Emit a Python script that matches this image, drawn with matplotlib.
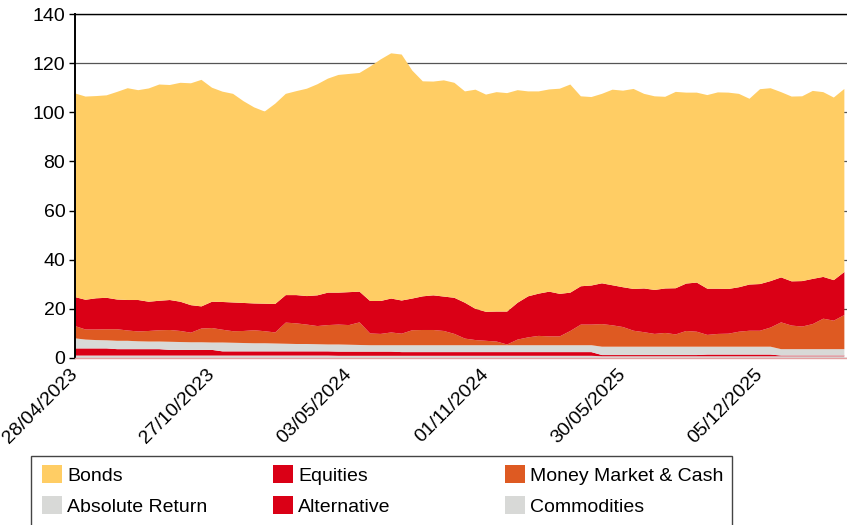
import matplotlib
matplotlib.use("Agg")
import matplotlib.pyplot as plt
from matplotlib.patches import Patch, Rectangle
import numpy as np

plt.rcParams["font.family"] = ["Liberation Sans", "DejaVu Sans"]

bonds = [82.9, 82.7, 82.3, 82.4, 84.5, 86.2, 85.4, 86.8, 88.0, 87.5,
         89.1, 90.3, 92.2, 87.1, 85.6, 84.9, 82.1, 79.8, 78.2, 81.5,
         81.9, 83.0, 84.4, 85.9, 87.1, 88.6, 88.8, 89.0, 95.4, 98.3,
         99.8, 100.1, 92.8, 87.5, 87.0, 88.0, 87.5, 86.0, 89.2, 88.4,
         89.3, 88.9, 86.5, 83.4, 82.3, 82.3, 83.5, 84.7, 77.3, 76.7,
         77.1, 79.6, 80.0, 81.4, 79.2, 78.8, 78.0, 79.9, 77.7, 77.3,
         78.8, 79.9, 79.9, 78.7, 75.6, 79.3, 78.5, 75.4, 75.2, 75.2,
         76.5, 75.2, 74.3, 74.5]
equities = [11.8, 12.1, 12.7, 12.8, 12.1, 12.4, 12.8, 11.9, 12.0, 12.2,
            11.9, 11.2, 9.0, 10.7, 11.3, 11.7, 11.4, 10.9, 11.2, 11.6,
            11.2, 11.5, 11.6, 12.5, 13.2, 13.0, 13.4, 12.5, 13.2, 13.4,
            13.8, 13.5, 12.9, 13.7, 14.1, 14.0, 14.7, 14.6, 12.7, 11.8,
            12.2, 13.4, 15.0, 16.7, 17.2, 18.2, 17.3, 15.6, 15.6, 15.9,
            16.6, 16.3, 16.2, 17.0, 17.8, 17.9, 18.1, 18.8, 19.3, 20.0,
            18.8, 18.4, 18.2, 18.1, 18.8, 19.0, 18.9, 18.3, 18.0, 18.5,
            18.4, 17.0, 16.5, 17.5]
money_market = [5.0, 4.1, 4.3, 4.5, 4.7, 4.2, 4.0, 4.3, 4.6, 4.8,
                4.5, 3.9, 5.6, 5.9, 5.2, 4.7, 4.9, 5.3, 4.9, 4.5,
                8.6, 8.4, 7.9, 7.4, 7.9, 8.1, 8.0, 9.2, 4.8, 4.6,
                5.2, 4.7, 6.1, 6.2, 6.2, 5.8, 4.6, 2.7, 2.1, 1.8,
                1.5, 0.3, 2.3, 3.2, 3.8, 3.6, 3.6, 5.8, 8.4, 8.4,
                9.2, 8.7, 8.0, 6.5, 5.9, 5.2, 5.6, 5.0, 6.4, 6.1,
                4.8, 5.2, 5.3, 6.1, 6.5, 6.5, 7.8, 10.9, 9.6, 9.2,
                10.2, 12.4, 11.6, 13.9]
absolute_return = [4.1, 3.6, 3.4, 3.3, 3.4, 3.4, 3.2, 3.1, 3.1, 3.3,
                   3.2, 3.1, 3.1, 3.0, 3.6, 3.5, 3.4, 3.3, 3.3, 3.2,
                   3.1, 3.0, 3.0, 2.9, 2.8, 2.9, 2.8, 2.7, 2.6, 2.6,
                   2.6, 2.8, 2.8, 2.8, 2.8, 2.8, 2.8, 2.8, 2.8, 2.8,
                   2.8, 2.8, 2.8, 2.8, 2.8, 2.8, 2.8, 2.8, 2.8, 2.8,
                   3.4, 3.4, 3.4, 3.4, 3.4, 3.4, 3.4, 3.4, 3.4, 3.4,
                   3.2, 3.2, 3.2, 3.2, 3.2, 3.2, 3.2, 2.6, 2.6, 2.6,
                   2.6, 2.6, 2.6, 2.6]
alternative = [2.9, 2.9, 2.9, 2.9, 2.6, 2.6, 2.6, 2.6, 2.6, 2.3,
               2.3, 2.3, 2.3, 2.3, 1.7, 1.7, 1.7, 1.7, 1.7, 1.7,
               1.7, 1.7, 1.7, 1.7, 1.7, 1.7, 1.7, 1.7, 1.7, 1.7,
               1.7, 1.5, 1.5, 1.5, 1.5, 1.5, 1.5, 1.5, 1.5, 1.5,
               1.5, 1.5, 1.5, 1.5, 1.5, 1.5, 1.5, 1.5, 1.5, 1.5,
               0.5, 0.5, 0.5, 0.5, 0.5, 0.5, 0.5, 0.5, 0.5, 0.5,
               0.7, 0.7, 0.7, 0.7, 0.7, 0.7, 0.7, 0.3, 0.3, 0.3,
               0.3, 0.3, 0.3, 0.3]
commodities = [1.0, 1.0, 1.0, 1.0, 1.0, 1.0, 1.0, 1.0, 1.0, 1.0,
               1.0, 1.0, 1.0, 1.0, 1.0, 1.0, 1.0, 1.0, 1.0, 1.0,
               1.0, 1.0, 1.0, 1.0, 1.0, 0.9, 0.9, 0.9, 0.9, 0.9,
               0.9, 0.9, 0.9, 0.9, 0.9, 0.9, 0.9, 0.9, 0.9, 0.9,
               0.9, 0.9, 0.9, 0.9, 0.9, 0.9, 0.9, 0.9, 0.9, 0.9,
               0.7, 0.7, 0.7, 0.7, 0.7, 0.7, 0.7, 0.7, 0.7, 0.7,
               0.7, 0.7, 0.7, 0.7, 0.7, 0.7, 0.7, 0.7, 0.7, 0.7,
               0.7, 0.7, 0.7, 0.7]

tick_labels = ["28/04/2023", "27/10/2023", "03/05/2024",
               "01/11/2024", "30/05/2025", "05/12/2025"]
tick_index = [0, 13, 26, 39, 52, 65]

C_BONDS = "#FFCD64"
C_RED = "#DA0016"
C_MM = "#DE5A22"
C_GREY = "#D8D9D7"
FS = 14

fig = plt.figure(figsize=(8.47, 5.25), dpi=100)
ax = fig.add_axes([75 / 847, 1 - 358 / 525, 772 / 847, 344 / 525])

x = np.arange(len(bonds))
ax.stackplot(x, commodities, alternative, absolute_return, money_market,
             equities, bonds,
             colors=[C_GREY, C_RED, C_GREY, C_MM, C_RED, C_BONDS],
             linewidth=0, antialiased=True)

ax.set_xlim(0, len(bonds) - 0.75)
ax.set_ylim(0, 140)
ax.set_yticks(range(0, 141, 20))
ax.yaxis.grid(True, color="#555555", linewidth=0.9)
ax.set_axisbelow(True)
ax.tick_params(axis="y", labelsize=FS, length=4, width=1, pad=3, color="black")

ax.set_xticks(tick_index)
ax.set_xticklabels(tick_labels, rotation=45, ha="right", va="center",
                   rotation_mode="anchor", fontsize=FS)
ax.tick_params(axis="x", length=0, pad=10)

ax.spines["right"].set_visible(False)
ax.spines["left"].set_linewidth(1.4)
ax.spines["top"].set_linewidth(1.0)
ax.spines["bottom"].set_color("#E4A0A0")
ax.spines["bottom"].set_linewidth(1.0)

names = ["Bonds", "Equities", "Money Market & Cash",
         "Absolute Return", "Alternative", "Commodities"]
colours = [C_BONDS, C_RED, C_MM, C_GREY, C_RED, C_GREY]
col_x = [38 / 847, 269 / 847, 501 / 847]
for k in range(3):
    handles = [Patch(facecolor=colours[k], edgecolor="none", label=names[k]),
               Patch(facecolor=colours[k + 3], edgecolor="none", label=names[k + 3])]
    fig.legend(handles=handles, loc="upper left",
               bbox_to_anchor=(col_x[k], 1 - 461 / 525), frameon=False,
               fontsize=FS, handlelength=1.05, handleheight=1.05,
               handletextpad=0.25, labelspacing=0.6, borderpad=0.2,
               borderaxespad=0)

fig.patches.append(Rectangle((31 / 847, -0.05), 701 / 847, 1 - 456 / 525 + 0.05,
                             transform=fig.transFigure, fill=False,
                             edgecolor="#444444", linewidth=1.0))

fig.savefig("out.png", dpi=100)
